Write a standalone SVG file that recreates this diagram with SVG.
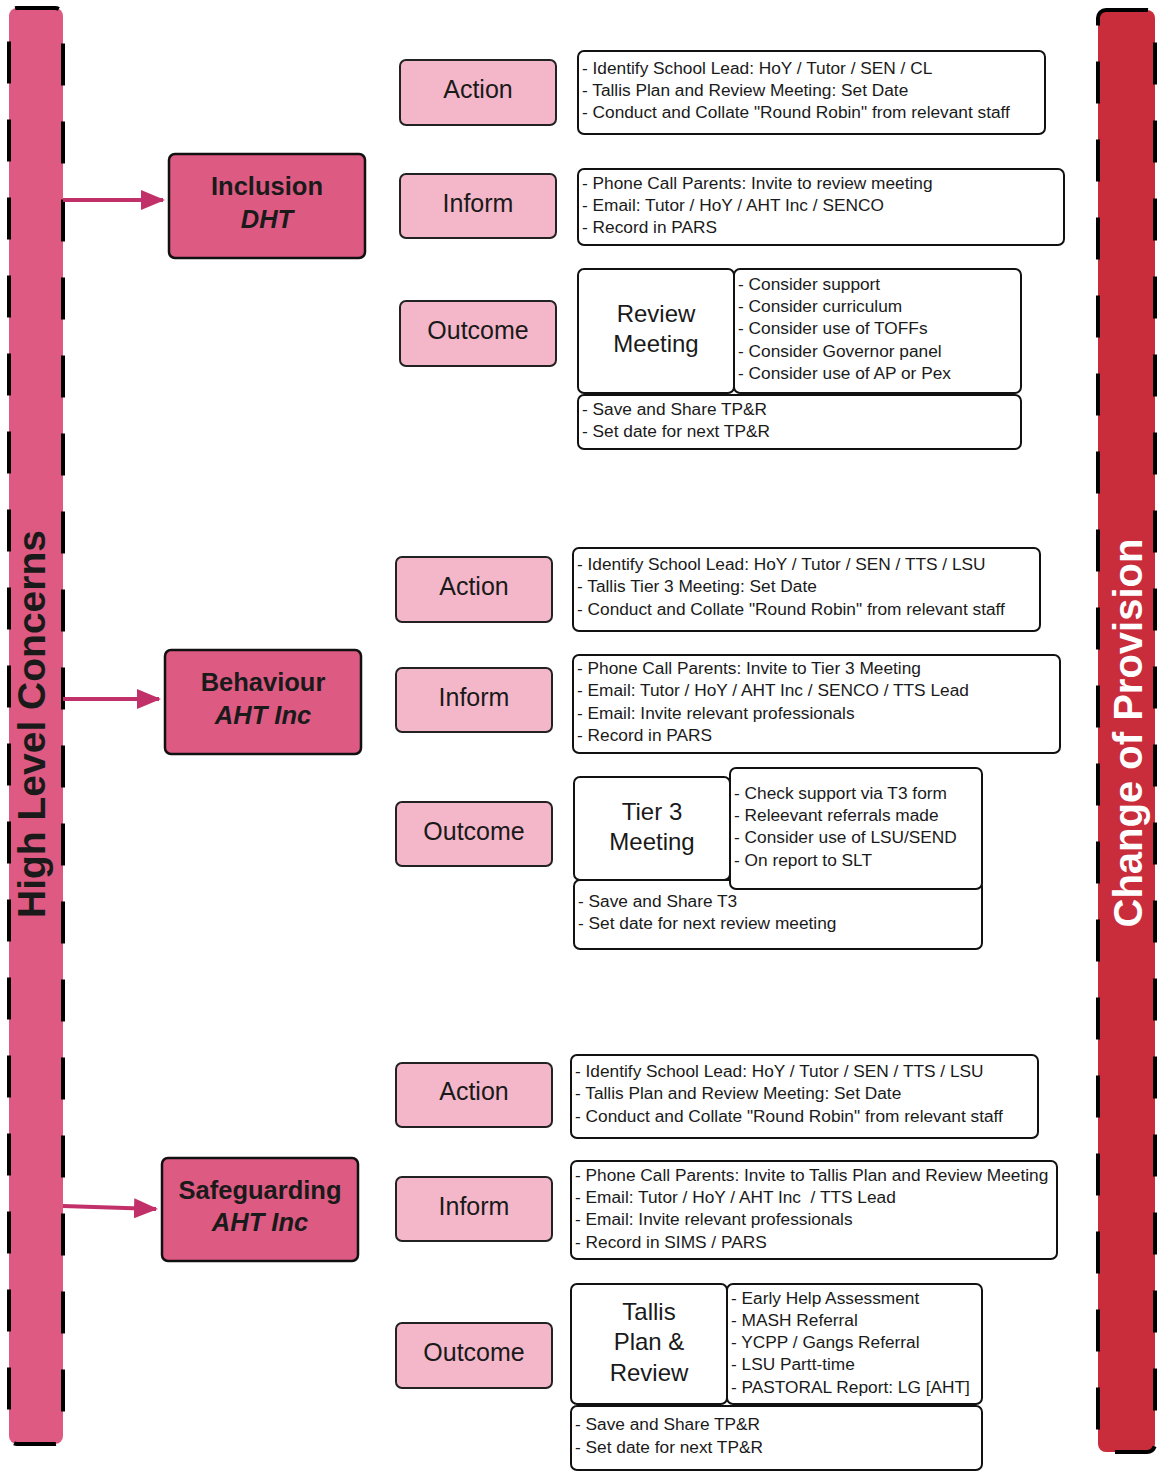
<svg xmlns="http://www.w3.org/2000/svg" width="1158" height="1472" viewBox="0 0 1158 1472">
  <style>
    text { font-family: "Liberation Sans", Arial, sans-serif; fill: #1a1a1a; }
    .bar { stroke: #000; stroke-width: 4; stroke-dasharray: 42 36; }
    .barL { fill: #de5a82; }
    .barR { fill: #c92c3b; }
    .barText { font-size: 39px; font-weight: bold; text-anchor: middle; }
    .node rect { fill: #dd5b83; stroke: #111; stroke-width: 2.5; }
    .node text { font-size: 25.5px; font-weight: bold; text-anchor: middle; }
    .node .sub { font-style: italic; }
    .label rect { fill: #f4b7c9; stroke: #222; stroke-width: 2; }
    .label text { font-size: 25px; text-anchor: middle; }
    .box rect { fill: #fff; stroke: #111; stroke-width: 2; }
    .box text { font-size: 17.3px; }
    .box .title { font-size: 24px; text-anchor: middle; }
    .conn { stroke: #c2306a; stroke-width: 4; fill: none; }
  </style>
  <defs>
    <marker id="arrow" markerWidth="6" markerHeight="5" refX="5.5" refY="2.5" orient="auto" markerUnits="strokeWidth">
      <path d="M0,0 L6,2.5 L0,5 Z" fill="#c2306a"/>
    </marker>
  </defs>

  <!-- side columns -->
  <g id="high-level-concerns">
    <rect class="bar barL" x="9" y="8" width="54" height="1436" rx="8"/>
    <text class="barText" transform="translate(45 724) rotate(-90)">High Level Concerns</text>
  </g>
  <g id="change-of-provision">
    <rect class="bar barR" x="1098" y="10" width="57" height="1442" rx="8"/>
    <text class="barText" style="fill:#fff;font-size:40px" transform="translate(1142 733) rotate(-90)">Change of Provision</text>
  </g>

  <!-- connectors -->
  <g id="connectors">
    <line class="conn" x1="63" y1="200" x2="163" y2="200" marker-end="url(#arrow)"/>
    <line class="conn" x1="63" y1="699" x2="159" y2="699" marker-end="url(#arrow)"/>
    <line class="conn" x1="63" y1="1206" x2="156" y2="1209" marker-end="url(#arrow)"/>
  </g>

  <!-- concern owners -->
  <g id="inclusion" class="node">
    <rect x="169" y="154" width="196" height="104" rx="6"/>
    <text x="267" y="195">Inclusion</text>
    <text class="sub" x="267" y="228">DHT</text>
  </g>
  <g id="behaviour" class="node">
    <rect x="165" y="650" width="196" height="104" rx="6"/>
    <text x="263" y="691">Behaviour</text>
    <text class="sub" x="263" y="724">AHT Inc</text>
  </g>
  <g id="safeguarding" class="node">
    <rect x="162" y="1158" width="196" height="103" rx="6"/>
    <text x="260" y="1199">Safeguarding</text>
    <text class="sub" x="260" y="1231">AHT Inc</text>
  </g>

  <!-- Inclusion steps -->
  <g id="inc-action" class="label"><rect x="400" y="60" width="156" height="65" rx="6"/><text x="478" y="98">Action</text></g>
  <g id="inc-inform" class="label"><rect x="400" y="174" width="156" height="64" rx="6"/><text x="478" y="212">Inform</text></g>
  <g id="inc-outcome" class="label"><rect x="400" y="301" width="156" height="65" rx="6"/><text x="478" y="339">Outcome</text></g>

  <g id="inc-action-detail" class="box">
    <rect x="578" y="51" width="467" height="83" rx="6"/>
    <text x="582" y="74">- Identify School Lead: HoY / Tutor / SEN / CL</text>
    <text x="582" y="96">- Tallis Plan and Review Meeting: Set Date</text>
    <text x="582" y="118">- Conduct and Collate "Round Robin" from relevant staff</text>
  </g>
  <g id="inc-inform-detail" class="box">
    <rect x="578" y="169" width="486" height="76" rx="6"/>
    <text x="582" y="189">- Phone Call Parents: Invite to review meeting</text>
    <text x="582" y="211">- Email: Tutor / HoY / AHT Inc / SENCO</text>
    <text x="582" y="233">- Record in PARS</text>
  </g>
  <g id="inc-review-meeting" class="box">
    <rect x="578" y="269" width="156" height="124" rx="6"/>
    <text class="title" x="656" y="322">Review</text>
    <text class="title" x="656" y="352">Meeting</text>
  </g>
  <g id="inc-review-options" class="box">
    <rect x="734" y="269" width="287" height="124" rx="6"/>
    <text x="738" y="290">- Consider support</text>
    <text x="738" y="312">- Consider curriculum</text>
    <text x="738" y="334">- Consider use of TOFFs</text>
    <text x="738" y="357">- Consider Governor panel</text>
    <text x="738" y="379">- Consider use of AP or Pex</text>
  </g>
  <g id="inc-review-followup" class="box">
    <rect x="578" y="395" width="443" height="54" rx="6"/>
    <text x="582" y="415">- Save and Share TP&amp;R</text>
    <text x="582" y="437">- Set date for next TP&amp;R</text>
  </g>

  <!-- Behaviour steps -->
  <g id="beh-action" class="label"><rect x="396" y="557" width="156" height="65" rx="6"/><text x="474" y="595">Action</text></g>
  <g id="beh-inform" class="label"><rect x="396" y="668" width="156" height="64" rx="6"/><text x="474" y="706">Inform</text></g>
  <g id="beh-outcome" class="label"><rect x="396" y="802" width="156" height="64" rx="6"/><text x="474" y="840">Outcome</text></g>

  <g id="beh-action-detail" class="box">
    <rect x="573" y="548" width="467" height="83" rx="6"/>
    <text x="577" y="570">- Identify School Lead: HoY / Tutor / SEN / TTS / LSU</text>
    <text x="577" y="592">- Tallis Tier 3 Meeting: Set Date</text>
    <text x="577" y="615">- Conduct and Collate "Round Robin" from relevant staff</text>
  </g>
  <g id="beh-inform-detail" class="box">
    <rect x="573" y="655" width="487" height="98" rx="6"/>
    <text x="577" y="674">- Phone Call Parents: Invite to Tier 3 Meeting</text>
    <text x="577" y="696">- Email: Tutor / HoY / AHT Inc / SENCO / TTS Lead</text>
    <text x="577" y="719">- Email: Invite relevant professionals</text>
    <text x="577" y="741">- Record in PARS</text>
  </g>
  <g id="beh-tier3-meeting" class="box">
    <rect x="574" y="777" width="156" height="103" rx="6"/>
    <text class="title" x="652" y="820">Tier 3</text>
    <text class="title" x="652" y="850">Meeting</text>
  </g>
  <g id="beh-tier3-followup" class="box">
    <rect x="574" y="880" width="408" height="69" rx="6"/>
    <text x="578" y="907">- Save and Share T3</text>
    <text x="578" y="929">- Set date for next review meeting</text>
  </g>
  <g id="beh-tier3-options" class="box">
    <rect x="730" y="768" width="252" height="121" rx="6"/>
    <text x="734" y="799">- Check support via T3 form</text>
    <text x="734" y="821">- Releevant referrals made</text>
    <text x="734" y="843">- Consider use of LSU/SEND</text>
    <text x="734" y="866">- On report to SLT</text>
  </g>

  <!-- Safeguarding steps -->
  <g id="saf-action" class="label"><rect x="396" y="1063" width="156" height="64" rx="6"/><text x="474" y="1100">Action</text></g>
  <g id="saf-inform" class="label"><rect x="396" y="1177" width="156" height="64" rx="6"/><text x="474" y="1215">Inform</text></g>
  <g id="saf-outcome" class="label"><rect x="396" y="1323" width="156" height="65" rx="6"/><text x="474" y="1361">Outcome</text></g>

  <g id="saf-action-detail" class="box">
    <rect x="571" y="1055" width="467" height="83" rx="6"/>
    <text x="575" y="1077">- Identify School Lead: HoY / Tutor / SEN / TTS / LSU</text>
    <text x="575" y="1099">- Tallis Plan and Review Meeting: Set Date</text>
    <text x="575" y="1122">- Conduct and Collate "Round Robin" from relevant staff</text>
  </g>
  <g id="saf-inform-detail" class="box">
    <rect x="571" y="1161" width="486" height="98" rx="6"/>
    <text x="575" y="1181">- Phone Call Parents: Invite to Tallis Plan and Review Meeting</text>
    <text x="575" y="1203" xml:space="preserve">- Email: Tutor / HoY / AHT Inc  / TTS Lead</text>
    <text x="575" y="1225">- Email: Invite relevant professionals</text>
    <text x="575" y="1248">- Record in SIMS / PARS</text>
  </g>
  <g id="saf-tpr-meeting" class="box">
    <rect x="571" y="1284" width="156" height="120" rx="6"/>
    <text class="title" x="649" y="1320">Tallis</text>
    <text class="title" x="649" y="1350">Plan &amp;</text>
    <text class="title" x="649" y="1381">Review</text>
  </g>
  <g id="saf-tpr-options" class="box">
    <rect x="727" y="1284" width="255" height="120" rx="6"/>
    <text x="731" y="1304">- Early Help Assessment</text>
    <text x="731" y="1326">- MASH Referral</text>
    <text x="731" y="1348">- YCPP / Gangs Referral</text>
    <text x="731" y="1370">- LSU Partt-time</text>
    <text x="731" y="1393">- PASTORAL Report: LG [AHT]</text>
  </g>
  <g id="saf-tpr-followup" class="box">
    <rect x="571" y="1406" width="411" height="64" rx="6"/>
    <text x="575" y="1430">- Save and Share TP&amp;R</text>
    <text x="575" y="1453">- Set date for next TP&amp;R</text>
  </g>
</svg>
